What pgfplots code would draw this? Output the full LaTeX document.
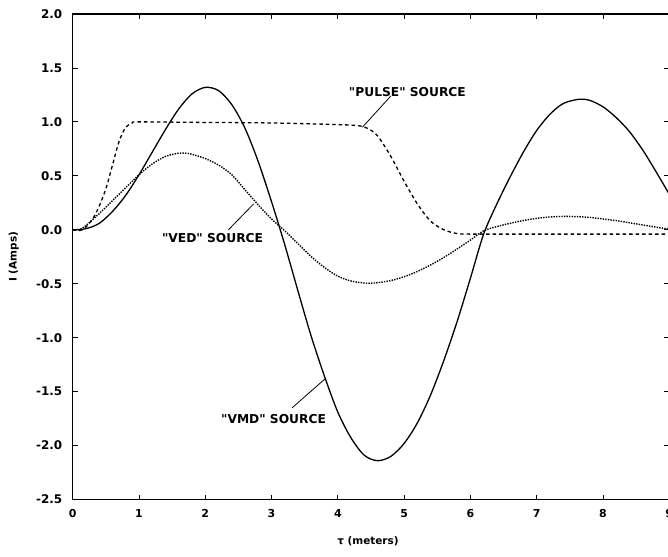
\documentclass[border=0pt]{standalone}
\usepackage{pgfplots}
\pgfplotsset{compat=1.18}
\usepackage{fontspec}
\setmainfont{DejaVu Sans}[Ligatures=TeXOff]
\usetikzlibrary{calc}

\begin{document}
\begin{tikzpicture}
\begin{axis}[
  scale only axis,
  width=597bp, height=486bp,
  xmin=0, xmax=9, ymin=-2.5, ymax=2,
  xtick={0,1,...,9},
  ytick={-2.5,-2,...,2},
  tick align=inside,
  major tick length=5bp,
  axis line style={line width=1.4bp},
  every tick/.style={black, line width=0.8bp},
  /pgf/number format/assume math mode=true,
  yticklabel style={/pgf/number format/fixed, /pgf/number format/fixed zerofill, /pgf/number format/precision=1},
  yticklabel style={font=\bfseries\fontsize{12}{14}\selectfont, xshift=-7bp},
  xticklabel style={font=\bfseries\fontsize{11}{12}\selectfont, yshift=-6bp},
  every axis y label/.style={at={(axis description cs:-0.099,0.5)}, anchor=center, rotate=90},
  every axis x label/.style={at={(axis description cs:0.495,-0.086)}, anchor=center},
  label style={font=\bfseries\fontsize{10.5}{12}\selectfont},
  xlabel={τ (meters)},
  ylabel={I (Amps)},
  clip=true,
]
% VMD source current
\addplot[black, line width=1.3bp, smooth] coordinates {
 (0,0) (0.2,0.01) (0.4,0.06) (0.6,0.17) (0.8,0.32) (1.0,0.51) (1.2,0.72)
 (1.4,0.93) (1.6,1.12) (1.8,1.26) (2.0,1.32) (2.2,1.29) (2.4,1.16)
 (2.6,0.94) (2.8,0.63) (3.0,0.26) (3.2,-0.14) (3.4,-0.57) (3.6,-0.99)
 (3.8,-1.36) (4.0,-1.69) (4.2,-1.93) (4.4,-2.09) (4.6,-2.14) (4.8,-2.10)
 (5.0,-1.98) (5.2,-1.79) (5.4,-1.53) (5.6,-1.21) (5.8,-0.85) (6.0,-0.45)
 (6.2,-0.04) (6.4,0.24) (6.6,0.49) (6.8,0.72) (7.0,0.92) (7.2,1.07)
 (7.4,1.17) (7.64,1.21) (7.8,1.20) (8.0,1.14) (8.2,1.04) (8.4,0.91)
 (8.6,0.74) (8.8,0.54) (9.0,0.33)
};
% VED source current
\addplot[black, line width=1.4bp, smooth, dash pattern=on 1.4bp off 1.2bp] coordinates {
 (0,0) (0.1,0.0) (0.2,0.04) (0.4,0.15) (0.6,0.27) (0.8,0.39) (1.0,0.51)
 (1.2,0.61) (1.4,0.68) (1.6,0.71) (1.7,0.71) (1.8,0.70) (2.0,0.66)
 (2.2,0.60) (2.4,0.51) (2.6,0.37) (2.8,0.23) (3.0,0.10) (3.2,-0.01)
 (3.4,-0.13) (3.6,-0.25) (3.8,-0.35) (4.0,-0.43) (4.2,-0.475) (4.43,-0.495)
 (4.6,-0.49) (4.8,-0.47) (5.0,-0.435) (5.2,-0.386) (5.4,-0.326) (5.6,-0.256)
 (5.8,-0.178) (6.0,-0.095) (6.2,-0.01) (6.4,0.03) (6.6,0.06) (6.8,0.086)
 (7.0,0.106) (7.2,0.119) (7.41,0.124) (7.6,0.122) (7.8,0.115) (8.0,0.10)
 (8.2,0.085) (8.4,0.065) (8.6,0.045) (8.8,0.025) (9.0,0.005)
};
% PULSE source current
\addplot[black, line width=1.3bp, smooth, dash pattern=on 3.5bp off 3bp] coordinates {
 (0,0) (0.15,0) (0.3,0.1) (0.4,0.22) (0.5,0.38) (0.6,0.6) (0.7,0.82)
 (0.8,0.95) (0.9,0.99) (1.0,1.0) (2.0,0.995) (3.0,0.99) (4.0,0.975)
 (4.3,0.965) (4.45,0.94) (4.6,0.87) (4.8,0.68) (5.0,0.45) (5.2,0.24)
 (5.4,0.08) (5.6,0.0) (5.8,-0.035) (6.0,-0.04) (7.0,-0.04) (8.0,-0.04) (9.0,-0.04)
};
% annotations
\begin{scope}[font=\bfseries\fontsize{12.3}{14}\selectfont]
\node at (axis cs:5.05,1.28) {"PULSE" SOURCE};
\node at (axis cs:2.11,-0.08) {"VED" SOURCE};
\node at (axis cs:3.03,-1.75) {"VMD" SOURCE};
\end{scope}
\draw[line width=0.8bp] (axis cs:4.80,1.24) -- (axis cs:4.37,0.95);
\draw[line width=0.8bp] (axis cs:2.35,0.0) -- (axis cs:2.73,0.24);
\draw[line width=0.8bp] (axis cs:3.31,-1.65) -- (axis cs:3.81,-1.38);
\coordinate (ll) at (rel axis cs:0,0);
\coordinate (ur) at (rel axis cs:1,1);
\end{axis}
\pgfresetboundingbox
\path ($(ll)+(-72.8bp,-57bp)$) rectangle ($(ur)+(-1.2bp,14bp)$);
\end{tikzpicture}
\end{document}
